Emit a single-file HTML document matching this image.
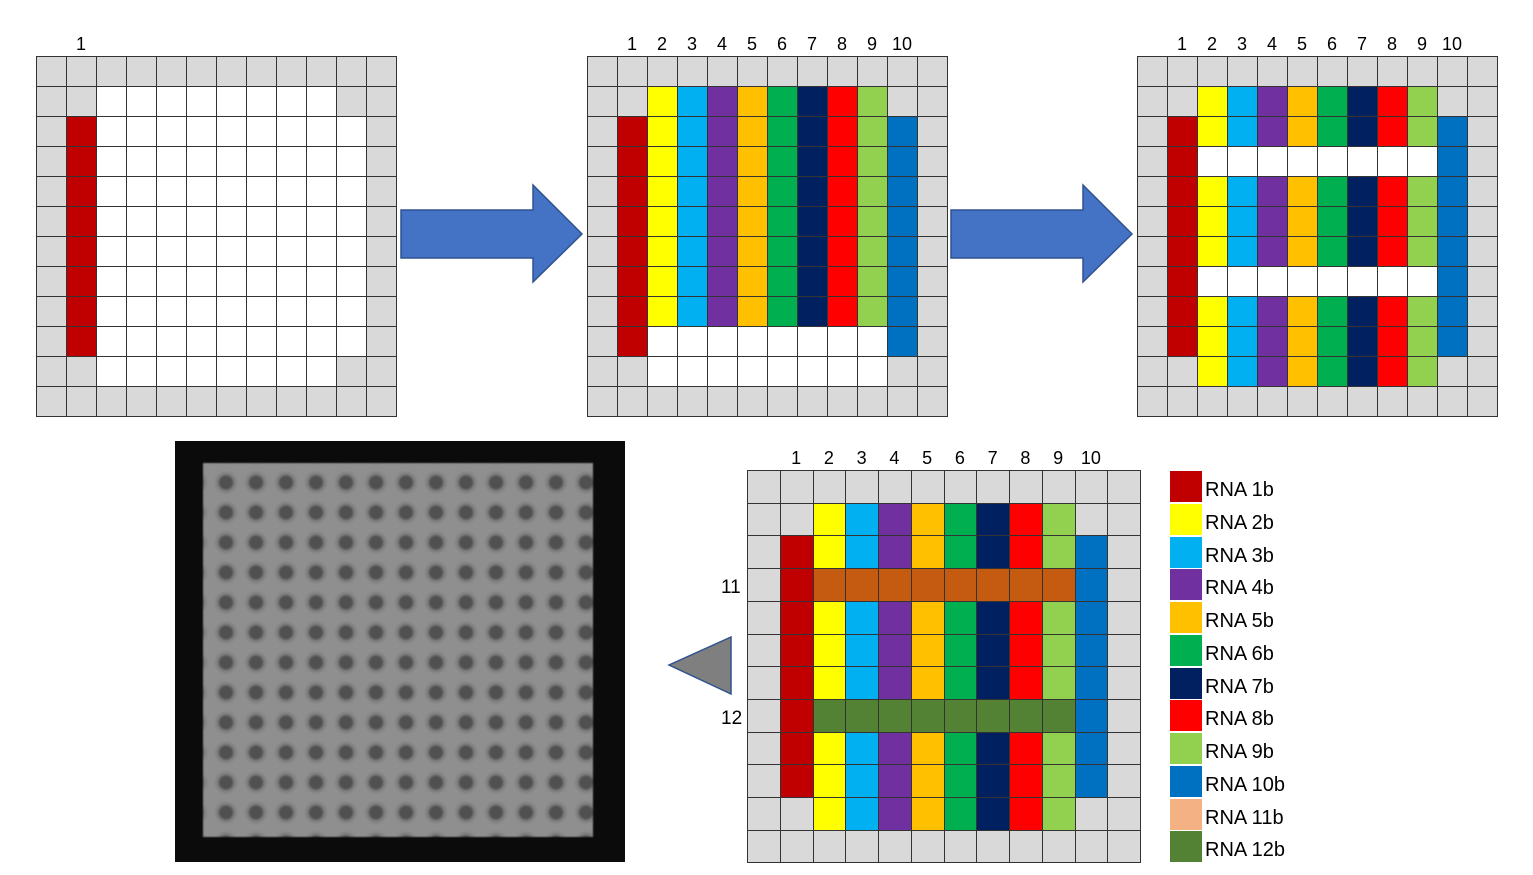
<!DOCTYPE html>
<html><head><meta charset="utf-8"><style>
body{margin:0;width:1533px;height:875px;background:#fff;position:relative;overflow:hidden;font-family:"Liberation Sans",sans-serif}
.c{position:absolute;box-sizing:border-box;border:1px solid #333}
.t{position:absolute;font-size:18px;color:#000;text-align:center}
.lg{position:absolute;font-size:20px}
</style></head><body>
<svg style="position:absolute;left:0;top:0" width="1533" height="875">
<polygon points="401,210 533,210 533,185 582,234 533,282 533,258 401,258" fill="#4472C4" stroke="#2F528F" stroke-width="1.5"/>
<polygon points="951,210 1083,210 1083,185 1132,234 1083,282 1083,258 951,258" fill="#4472C4" stroke="#2F528F" stroke-width="1.5"/>
<polygon points="731,637 731,694 669,665" fill="#7F7F7F" stroke="#2F528F" stroke-width="1.5"/>
</svg>
<div style="position:absolute;left:175px;top:441px;width:450px;height:421px;background:#0b0b0b"></div>
<div style="position:absolute;left:203px;top:463px;width:390px;height:374px;background-color:#8f8f8f;background-image:radial-gradient(circle at 50% 45%,#505050 0 6px,#7a7a7a 8px,transparent 12px);background-size:30px 30px;background-position:8px 6px;filter:blur(0.8px)"></div>
<div id="g"></div>
<script>
const C=['#C00000','#FFFF00','#00B0F0','#7030A0','#FFC000','#00B050','#002060','#FF0000','#92D050','#0070C0'];
const G='#D9D9D9',W='#fff';
function grid(x0,y0,cw,ch,fn,labels){
 let h='';
 for(let r=0;r<12;r++)for(let c=0;c<12;c++){
  const x=Math.round(x0+c*cw),y=Math.round(y0+r*ch),x2=Math.round(x0+(c+1)*cw),y2=Math.round(y0+(r+1)*ch);
  h+=`<div class="c" style="left:${x}px;top:${y}px;width:${x2-x+1}px;height:${y2-y+1}px;background:${fn(r,c)}"></div>`;
 }
 for(let i=1;i<=labels;i++)h+=`<div class="t" style="left:${x0+i*cw}px;top:${y0-22}px;width:${cw}px">${i}</div>`;
 return h;
}
function edge(r,c){return r==0||r==11||c==0||c==11;}
let h='';
h+=grid(36,56,30,30,(r,c)=>{if(edge(r,c))return G;if(c==1)return(r>=2&&r<=9)?C[0]:G;if(c==10)return(r>=2&&r<=9)?W:G;return W;},1);
h+=grid(587,56,30,30,(r,c)=>{if(edge(r,c))return G;if(c==1)return(r>=2&&r<=9)?C[0]:G;if(c==10)return(r>=2&&r<=9)?C[9]:G;return r<=8?C[c-1]:W;},10);
h+=grid(1137,56,30,30,(r,c)=>{if(edge(r,c))return G;if(c==1)return(r>=2&&r<=9)?C[0]:G;if(c==10)return(r>=2&&r<=9)?C[9]:G;return(r==3||r==7)?W:C[c-1];},10);
h+=grid(747,470,32.75,32.7,(r,c)=>{if(edge(r,c))return G;if(c==1)return(r>=2&&r<=9)?C[0]:G;if(c==10)return(r>=2&&r<=9)?C[9]:G;if(r==3)return'#C55A11';if(r==7)return'#548235';return C[c-1];},10);
h+=`<div class="t" style="left:721px;top:577px;font-size:19px">11</div><div class="t" style="left:721px;top:708px;font-size:19px">12</div>`;
const L=C.concat(['#F4B183','#548235']);
L.forEach((col,i)=>{const y=471+i*32.75;h+=`<div style="position:absolute;left:1170px;top:${y}px;width:32px;height:31px;background:${col}"></div><div class="lg" style="left:1205px;top:${y+8}px">RNA ${i+1}b</div>`;});
document.getElementById('g').innerHTML=h;
</script>
</body></html>
